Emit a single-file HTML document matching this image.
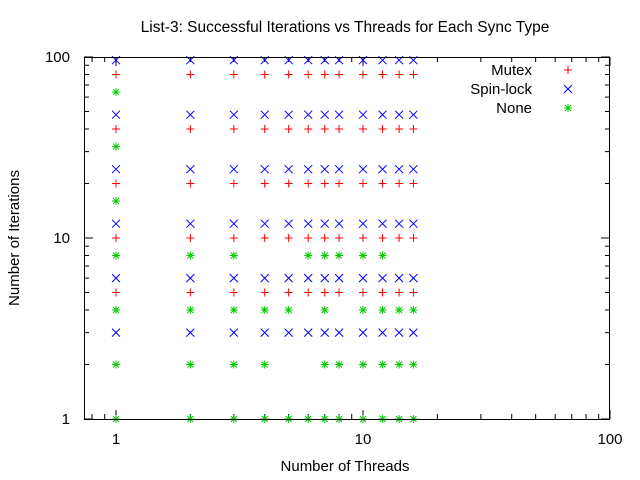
<!DOCTYPE html>
<html><head><meta charset="utf-8"><style>
body{margin:0;background:#fff}
svg{display:block;font-family:"Liberation Sans",sans-serif;font-size:15px}
</style></head><body>
<svg id="chart" width="640" height="480" viewBox="0 0 640 480">
<text x="345" y="32" text-anchor="middle" style="font-size:15.5px">List-3: Successful Iterations vs Threads for Each Sync Type</text>
<text x="345" y="471" text-anchor="middle">Number of Threads</text>
<text x="19" y="238" text-anchor="middle" transform="rotate(-90 19 238)">Number of Iterations</text>
<g id="axes"></g><g id="marks"></g><g id="legend"></g>
<rect x="84.5" y="57.5" width="525" height="362" fill="none" stroke="#000"/>
</svg>
<script>
const threads=[1,2,3,4,5,6,7,8,10,12,14,16];
const mutexIters=[5,10,20,40,80];
const spinIters=[3,6,12,24,48,96];
const noneIters=[1,2,4,8,16,32,64];
const noneThreads={1:threads,2:[1,2,3,4,7,8,10,12,14,16],4:[1,2,3,4,5,7,10,12,14,16],8:[1,2,3,6,7,8,10,12],16:[1],32:[1],64:[1]};
const xTicks=[1,10,100];
const yTicks=[1,10,100];
const X0=84,X1=610,Y0=419,Y1=57;
const xmin=-(116-X0)/247,xmax=2;
function xs(v){return X0+(Math.log10(v)-xmin)/(xmax-xmin)*(X1-X0);}
function ys(v){return Y0-(Math.log10(v)-0)/2*(Y0-Y1);}
const NS="http://www.w3.org/2000/svg";
function el(t,a,p){const e=document.createElementNS(NS,t);for(const k in a)e.setAttribute(k,a[k]);p.appendChild(e);return e;}
const axes=document.getElementById('axes'),marks=document.getElementById('marks'),leg=document.getElementById('legend');
for(let d=-1;d<3;d++){for(let m=1;m<10;m++){const v=Math.pow(10,d)*m;const x=xs(v);if(x<X0+1||x>X1+0.5)continue;const L=m===1?9:5;
const t=el('path',{d:`M${x} ${Y0}v${-L}M${x} ${Y1}v${L}`,stroke:'#000'},axes);

}}
for(let d=0;d<2;d++){for(let m=1;m<=10;m++){const v=Math.pow(10,d)*m;const y=ys(v);const L=(m===1||m===10)?9:5;
const t=el('path',{d:`M${X0} ${y}h${L}M${X1} ${y}h${-L}`,stroke:'#000'},axes);

}}
xTicks.forEach(v=>{const t=el('text',{x:xs(v),y:444,'text-anchor':'middle'},axes);t.textContent=v;

});
yTicks.forEach(v=>{const t=el('text',{x:70,y:ys(v)+5,'text-anchor':'end'},axes);t.textContent=v;

});
function plus(x,y,c,p){return el('path',{d:`M${x-4} ${y}h8M${x} ${y-4}v8`,stroke:c,fill:'none'},p);}
function cross(x,y,c,p){return el('path',{d:`M${x-4} ${y-4}l8 8M${x-4} ${y+4}l8 -8`,stroke:c,fill:'none'},p);}
function star(x,y,c,p){return el('path',{d:`M${x-4} ${y}h8M${x} ${y-4}v8M${x-3} ${y-3}l6 6M${x-3} ${y+3}l6 -6`,stroke:c,fill:'none'},p);}
threads.forEach(t=>{
 mutexIters.forEach(v=>{const m=plus(xs(t),ys(v),'#f00',marks);
 
 });
 spinIters.forEach(v=>{const m=cross(xs(t),ys(v),'#00f',marks);
 
 });
});
noneIters.forEach(v=>{(noneThreads[v]||[]).forEach(t=>{const m=star(xs(t),ys(v),'#0c0',marks);
 
 });});
const legendItems=[['Mutex','#f00',plus],['Spin-lock','#00f',cross],['None','#0c0',star]];
legendItems.forEach((it,i)=>{const y=70+i*19;
 const t=el('text',{x:532,y:y+5,'text-anchor':'end'},leg);t.textContent=it[0];
 
 
 const s=it[2](568,y,it[1],leg);
 
 });
</script>
</body></html>
